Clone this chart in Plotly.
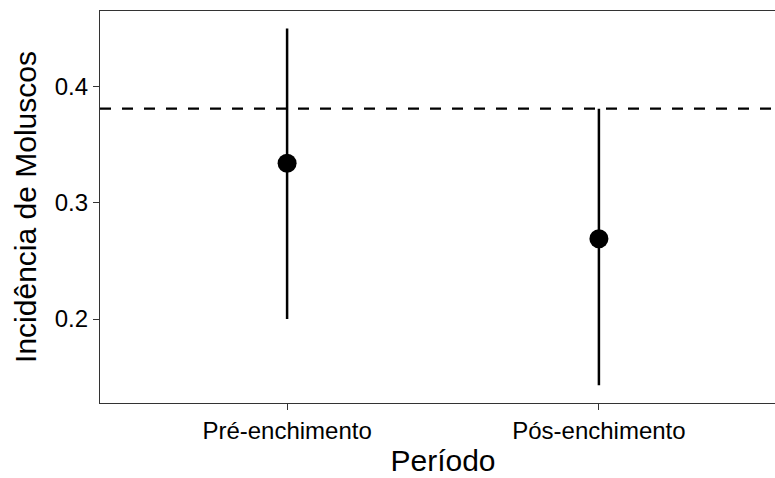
import plotly.graph_objects as go

periodo = ["Pré-enchimento", "Pós-enchimento"]
media = [0.334, 0.269]
inferior = [0.200, 0.143]
superior = [0.450, 0.381]
linha_ref = 0.381
y_ticks = [0.2, 0.3, 0.4]
y_tick_labels = ["0.2", "0.3", "0.4"]

err_plus = [s - m for s, m in zip(superior, media)]
err_minus = [m - i for m, i in zip(media, inferior)]

fig = go.Figure()
fig.add_hline(y=linha_ref, line=dict(color="black", width=2.2, dash="11px,11px"), layer="below")
fig.add_trace(go.Scatter(
    x=periodo, y=media, mode="markers",
    marker=dict(color="black", size=19),
    error_y=dict(type="data", array=err_plus, arrayminus=err_minus,
                 width=0, thickness=2.5, color="black"),
    showlegend=False, cliponaxis=False,
))

font = "Liberation Sans, Arial, Helvetica, sans-serif"
# the reference panel runs past the right edge of the 775 px picture
fig.update_layout(
    width=786, height=478,
    margin=dict(l=100, r=0, t=11, b=75),
    plot_bgcolor="white", paper_bgcolor="white",
    font=dict(family=font, color="black"),
    xaxis=dict(
        type="category", range=[-0.6, 1.6],
        showline=True, mirror=True, linecolor="#333333", linewidth=1.2,
        ticks="outside", ticklen=6, tickwidth=1.4, tickcolor="#333333",
        tickfont=dict(size=24, color="black"),
        showgrid=False, zeroline=False,
        title=dict(text="Período", font=dict(size=30), standoff=7),
    ),
    yaxis=dict(
        range=[0.1277, 0.4651],
        tickvals=y_ticks, ticktext=y_tick_labels,
        showline=True, mirror=False, linecolor="#333333", linewidth=1.2,
        ticks="outside", ticklen=6, tickwidth=1.4, tickcolor="#333333",
        tickfont=dict(size=24, color="black"),
        showgrid=False, zeroline=False,
        title=dict(text="Incidência de Moluscos", font=dict(size=30), standoff=9),
    ),
)
fig.write_html("out.html", config={"displayModeBar": False},
               post_script="document.body.style.margin='0';document.body.style.overflow='hidden';")
